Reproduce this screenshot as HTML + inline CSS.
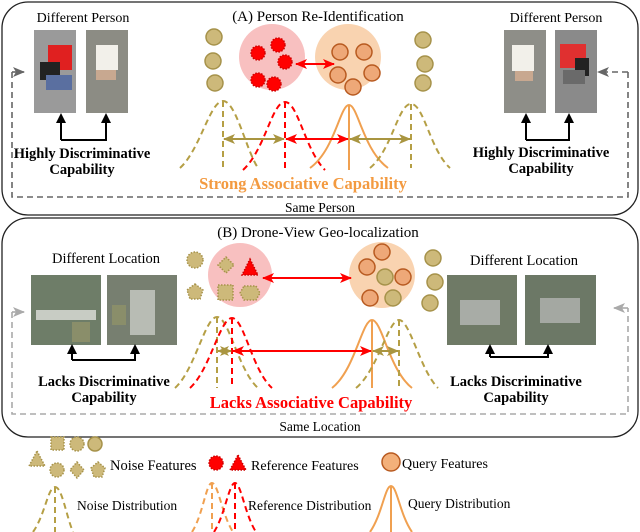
<!DOCTYPE html>
<html><head><meta charset="utf-8"><style>
html,body{margin:0;padding:0;background:#fff}
svg{display:block}
text{font-family:"Liberation Serif",serif}
</style></head><body>
<svg width="640" height="532" viewBox="0 0 640 532" xmlns="http://www.w3.org/2000/svg">
<defs>
<marker id="ar" markerWidth="12" markerHeight="10" refX="11" refY="5" orient="auto-start-reverse" markerUnits="userSpaceOnUse"><path d="M0,0 L12,5 L0,10 L3,5z" fill="#f00"/></marker>
<marker id="ag" markerWidth="12" markerHeight="10" refX="11" refY="5" orient="auto-start-reverse" markerUnits="userSpaceOnUse"><path d="M0,0 L12,5 L0,10 L3,5z" fill="#a99540"/></marker>
<marker id="agr" markerWidth="12" markerHeight="10" refX="11" refY="5" orient="auto" markerUnits="userSpaceOnUse"><path d="M0,0 L12,5 L0,10 L3,5z" fill="#666"/></marker>
<marker id="agl" markerWidth="12" markerHeight="10" refX="11" refY="5" orient="auto" markerUnits="userSpaceOnUse"><path d="M0,0 L12,5 L0,10 L3,5z" fill="#aaa"/></marker>
</defs>

<rect x="2" y="2" width="636" height="213" rx="26" fill="none" stroke="#222" stroke-width="1.3"/>
<rect x="2" y="218" width="636" height="219" rx="26" fill="none" stroke="#222" stroke-width="1.3"/>

<!-- TOP -->
<text x="318" y="21" font-size="15" text-anchor="middle">(A) Person Re-Identification</text>
<text x="83" y="22" font-size="14" text-anchor="middle">Different Person</text>
<text x="556" y="22" font-size="14" text-anchor="middle">Different Person</text>
<rect x="34" y="30" width="42" height="83" fill="#9a9a9a"/>
<rect x="48" y="45" width="24" height="25" fill="#e02020"/>
<rect x="40" y="62" width="20" height="18" fill="#222"/>
<rect x="46" y="75" width="26" height="15" fill="#5a6fa0"/>
<rect x="86" y="30" width="42" height="83" fill="#8c8c84"/>
<rect x="96" y="45" width="22" height="25" fill="#f2f0ea"/>
<rect x="96" y="70" width="20" height="10" fill="#c8a890"/>
<rect x="504" y="30" width="42" height="83" fill="#8e8e88"/>
<rect x="512" y="45" width="22" height="26" fill="#f2f0ea"/>
<rect x="515" y="71" width="18" height="10" fill="#c8a890"/>
<rect x="555" y="30" width="42" height="83" fill="#8a8a8a"/>
<rect x="560" y="44" width="26" height="24" fill="#e03030"/>
<rect x="575" y="58" width="14" height="18" fill="#222"/>
<rect x="563" y="70" width="22" height="14" fill="#6a6a6a"/>
<path d="M61,140 L61,118 M61,140 L106,140 L106,118" fill="none" stroke="#000" stroke-width="2"/>
<path d="M61,113 L56,123 L66,123z M106,113 L101,123 L111,123z" fill="#000"/>
<path d="M526,140 L526,118 M526,140 L569,140 L569,118" fill="none" stroke="#000" stroke-width="2"/>
<path d="M526,113 L521,123 L531,123z M569,113 L564,123 L574,123z" fill="#000"/>
<text x="82" y="158" font-size="14.5" font-weight="bold" text-anchor="middle">Highly Discriminative</text>
<text x="82" y="174" font-size="14.5" font-weight="bold" text-anchor="middle">Capability</text>
<text x="541" y="157" font-size="14.5" font-weight="bold" text-anchor="middle">Highly Discriminative</text>
<text x="541" y="173" font-size="14.5" font-weight="bold" text-anchor="middle">Capability</text>
<path d="M12,72 L12,197 L628,197 L628,72" fill="none" stroke="#666" stroke-width="1.6" stroke-dasharray="6,4"/>
<path d="M12,72 L24,72" stroke="#666" stroke-width="1.6" marker-end="url(#agr)"/>
<path d="M628,72 L598,72" stroke="#666" stroke-width="1.6" stroke-dasharray="6,4" marker-end="url(#agr)"/>
<text x="320" y="212" font-size="13.5" text-anchor="middle">Same  Person</text>

<g fill="#cdb97a" stroke="#a6924a" stroke-width="1.5">
<circle cx="214" cy="37" r="8"/><circle cx="213" cy="61" r="8"/><circle cx="215" cy="83" r="8"/>
<circle cx="423" cy="40" r="8"/><circle cx="425" cy="64" r="8"/><circle cx="423" cy="83" r="8"/>
</g>
<circle cx="272" cy="57" r="33" fill="#f8c0c0"/>
<circle cx="348" cy="57" r="33" fill="#f9d3b0"/>
<g fill="#f00" stroke="#c00" stroke-width="1.5" stroke-dasharray="1.5,1.5">
<circle cx="258" cy="53" r="7"/><circle cx="278" cy="45" r="7"/><circle cx="285" cy="62" r="7"/><circle cx="258" cy="80" r="7"/><circle cx="274" cy="84" r="7"/>
</g>
<g fill="#eea878" stroke="#b85a20" stroke-width="1.5">
<circle cx="340" cy="52" r="8"/><circle cx="364" cy="52" r="8"/><circle cx="338" cy="75" r="8"/><circle cx="372" cy="73" r="8"/><circle cx="353" cy="87" r="8"/>
</g>
<path d="M296,64 L334,64" stroke="#f00" stroke-width="2" marker-start="url(#ar)" marker-end="url(#ar)"/>

<g fill="none" stroke-width="2">
<path d="M180,168 C200,150 210,101 223,101 C236,101 246,150 258,168" stroke="#b59f45" stroke-dasharray="6,4"/>
<line x1="223" y1="101" x2="223" y2="168" stroke="#b59f45" stroke-dasharray="6,4"/>
<path d="M243,170 C265,150 272,102 285,102 C298,102 305,150 325,170" stroke="#f00" stroke-dasharray="6,4"/>
<line x1="285" y1="102" x2="285" y2="170" stroke="#f00" stroke-dasharray="6,4"/>
<path d="M310,168 C335,150 340,105 349,105 C358,105 363,150 388,168" stroke="#f0a050"/>
<line x1="349" y1="105" x2="349" y2="170" stroke="#f0a050"/>
<path d="M370,168 C392,150 398,104 411,104 C424,104 430,150 450,168" stroke="#b59f45" stroke-dasharray="6,4"/>
<line x1="411" y1="104" x2="411" y2="168" stroke="#b59f45" stroke-dasharray="6,4"/>
</g>
<path d="M224,139 L284,139" stroke="#a99540" stroke-width="2" marker-start="url(#ag)" marker-end="url(#ag)"/>
<path d="M286,139 L348,139" stroke="#f00" stroke-width="2" marker-start="url(#ar)" marker-end="url(#ar)"/>
<path d="M350,139 L410,139" stroke="#a99540" stroke-width="2" marker-start="url(#ag)" marker-end="url(#ag)"/>
<text x="303" y="189" font-size="16.5" font-weight="bold" fill="#f39a40" text-anchor="middle">Strong Associative Capability</text>

<!-- BOTTOM -->
<text x="318" y="237" font-size="15" text-anchor="middle">(B) Drone-View Geo-localization</text>
<text x="106" y="263" font-size="14.5" text-anchor="middle">Different Location</text>
<text x="524" y="265" font-size="14.5" text-anchor="middle">Different Location</text>
<rect x="31" y="275" width="70" height="70" fill="#6e7d68"/>
<rect x="36" y="310" width="60" height="10" fill="#c8ccc4"/>
<rect x="72" y="322" width="18" height="20" fill="#8a8e6a"/>
<rect x="107" y="275" width="70" height="70" fill="#777f70"/>
<rect x="130" y="290" width="25" height="45" fill="#b8bcb4"/>
<rect x="112" y="305" width="14" height="20" fill="#8a8e6a"/>
<rect x="447" y="275" width="70" height="70" fill="#6f7a66"/>
<rect x="460" y="300" width="40" height="25" fill="#a8aca6"/>
<rect x="525" y="275" width="71" height="70" fill="#6c7866"/>
<rect x="540" y="298" width="40" height="25" fill="#a4a8a2"/>
<path d="M72,360 L72,350 M72,360 L135,360 L135,350" fill="none" stroke="#000" stroke-width="2"/>
<path d="M72,344 L67,354 L77,354z M135,344 L130,354 L140,354z" fill="#000"/>
<path d="M490,357 L490,350 M490,357 L548,357 L548,350" fill="none" stroke="#000" stroke-width="2"/>
<path d="M490,344 L485,354 L495,354z M548,344 L543,354 L553,354z" fill="#000"/>
<text x="104" y="386" font-size="14.5" font-weight="bold" text-anchor="middle">Lacks Discriminative</text>
<text x="104" y="402" font-size="14.5" font-weight="bold" text-anchor="middle">Capability</text>
<text x="516" y="386" font-size="14.5" font-weight="bold" text-anchor="middle">Lacks Discriminative</text>
<text x="516" y="402" font-size="14.5" font-weight="bold" text-anchor="middle">Capability</text>
<path d="M12,312 L12,414 L628,414 L628,308" fill="none" stroke="#aaa" stroke-width="1.6" stroke-dasharray="6,4"/>
<path d="M12,312 L24,312" stroke="#aaa" stroke-width="1.6" marker-end="url(#agl)"/>
<path d="M628,308 L614,308" stroke="#aaa" stroke-width="1.6" marker-end="url(#agl)"/>
<text x="320" y="431" font-size="13.5" text-anchor="middle">Same  Location</text>

<circle cx="240" cy="275" r="32" fill="#f8c0c0"/>
<circle cx="382" cy="275" r="33" fill="#f9d3b0"/>
<g fill="#cdb97a" stroke="#a6924a" stroke-width="1.5" stroke-dasharray="1.5,1.5">
<circle cx="195" cy="260" r="8"/>
<path d="M195,284 L203,290 L200,299 L190,299 L187,290z"/>
<path d="M226,257 L234,265 L226,273 L218,265z"/>
<rect x="218" y="285" width="15" height="15"/>
<path d="M244,286 L256,286 L260,293 L256,300 L244,300 L240,293z"/>
</g>
<path d="M250,259 L258,275 L242,275z" fill="#f00" stroke="#c00" stroke-width="1.5" stroke-dasharray="1.5,1.5"/>
<g fill="#cdb97a" stroke="#a6924a" stroke-width="1.5">
<circle cx="433" cy="258" r="8"/><circle cx="435" cy="282" r="8"/><circle cx="430" cy="303" r="8"/>
<circle cx="385" cy="277" r="8"/><circle cx="393" cy="298" r="8"/>
</g>
<g fill="#eea878" stroke="#b85a20" stroke-width="1.5">
<circle cx="382" cy="252" r="8"/><circle cx="367" cy="267" r="8"/><circle cx="403" cy="277" r="8"/><circle cx="370" cy="298" r="8"/>
</g>
<path d="M263,278 L351,278" stroke="#f00" stroke-width="2" marker-start="url(#ar)" marker-end="url(#ar)"/>

<g fill="none" stroke-width="2">
<path d="M175,388 C195,370 205,317 217,317 C229,317 238,370 258,388" stroke="#b59f45" stroke-dasharray="6,4"/>
<line x1="217" y1="317" x2="217" y2="388" stroke="#b59f45" stroke-dasharray="6,4"/>
<path d="M190,388 C210,370 220,318 232,318 C244,318 252,370 272,388" stroke="#f00" stroke-dasharray="6,4"/>
<line x1="232" y1="318" x2="232" y2="388" stroke="#f00" stroke-dasharray="6,4"/>
<path d="M332,388 C355,370 362,320 372,320 C382,320 389,370 412,388" stroke="#f0a050"/>
<line x1="372" y1="320" x2="372" y2="388" stroke="#f0a050"/>
<path d="M356,388 C378,370 388,320 399,320 C410,320 420,370 438,388" stroke="#b59f45" stroke-dasharray="6,4"/>
<line x1="399" y1="320" x2="399" y2="388" stroke="#b59f45" stroke-dasharray="6,4"/>
</g>
<path d="M218,351 L231,351" stroke="#a99540" stroke-width="2" marker-start="url(#ag)" marker-end="url(#ag)"/>
<path d="M233,351 L371,351" stroke="#f00" stroke-width="2" marker-start="url(#ar)" marker-end="url(#ar)"/>
<path d="M373,351 L398,351" stroke="#a99540" stroke-width="2" marker-start="url(#ag)" marker-end="url(#ag)"/>
<text x="311" y="408" font-size="16.5" font-weight="bold" fill="#f00" text-anchor="middle">Lacks Associative Capability</text>

<!-- LEGEND -->
<g fill="#cdb97a" stroke="#a6924a" stroke-width="1.5" stroke-dasharray="1.5,1.5">
<path d="M37,451 L45,466 L29,466z"/>
<rect x="51" y="437" width="13" height="13"/>
<circle cx="77" cy="444" r="7"/>
<circle cx="57" cy="470" r="7"/>
<path d="M77,462 L84,470 L77,478 L70,470z"/>
<path d="M98,462 L105,468 L102,477 L94,477 L91,468z"/>
</g>
<circle cx="95" cy="444" r="7" fill="#cdb97a" stroke="#a6924a" stroke-width="1.5"/>
<text x="110" y="470" font-size="14.5">Noise Features</text>
<circle cx="216" cy="463" r="7" fill="#f00" stroke="#c00" stroke-width="1.5" stroke-dasharray="1.5,1.5"/>
<path d="M238,455 L246,470 L230,470z" fill="#f00" stroke="#c00" stroke-width="1.5" stroke-dasharray="1.5,1.5"/>
<text x="251" y="470" font-size="14">Reference Features</text>
<circle cx="391" cy="462" r="9" fill="#f3b07a" stroke="#b85a20" stroke-width="1.5"/>
<text x="402" y="468" font-size="14">Query Features</text>

<g fill="none" stroke-width="2">
<path d="M33,532 C45,515 48,487 55,487 C62,487 66,515 73,532" stroke="#b59f45" stroke-dasharray="6,4"/>
<line x1="55" y1="487" x2="55" y2="532" stroke="#b59f45" stroke-dasharray="6,4"/>
<path d="M192,532 C203,515 206,483 212,483 C218,483 222,515 233,532" stroke="#f0a050" stroke-dasharray="6,4"/>
<line x1="212" y1="483" x2="212" y2="532" stroke="#f0a050" stroke-dasharray="6,4"/>
<path d="M214,532 C225,515 229,483 235,483 C241,483 245,515 256,532" stroke="#f00" stroke-dasharray="6,4"/>
<line x1="235" y1="483" x2="235" y2="532" stroke="#f00" stroke-dasharray="6,4"/>
<path d="M370,532 C382,515 385,486 391,486 C397,486 400,515 412,532" stroke="#f0a050"/>
<line x1="391" y1="486" x2="391" y2="532" stroke="#f0a050"/>
</g>
<text x="77" y="510" font-size="13.5">Noise Distribution</text>
<text x="248" y="510" font-size="13.5">Reference Distribution</text>
<text x="408" y="508" font-size="13.5">Query Distribution</text>
</svg>
</body></html>
